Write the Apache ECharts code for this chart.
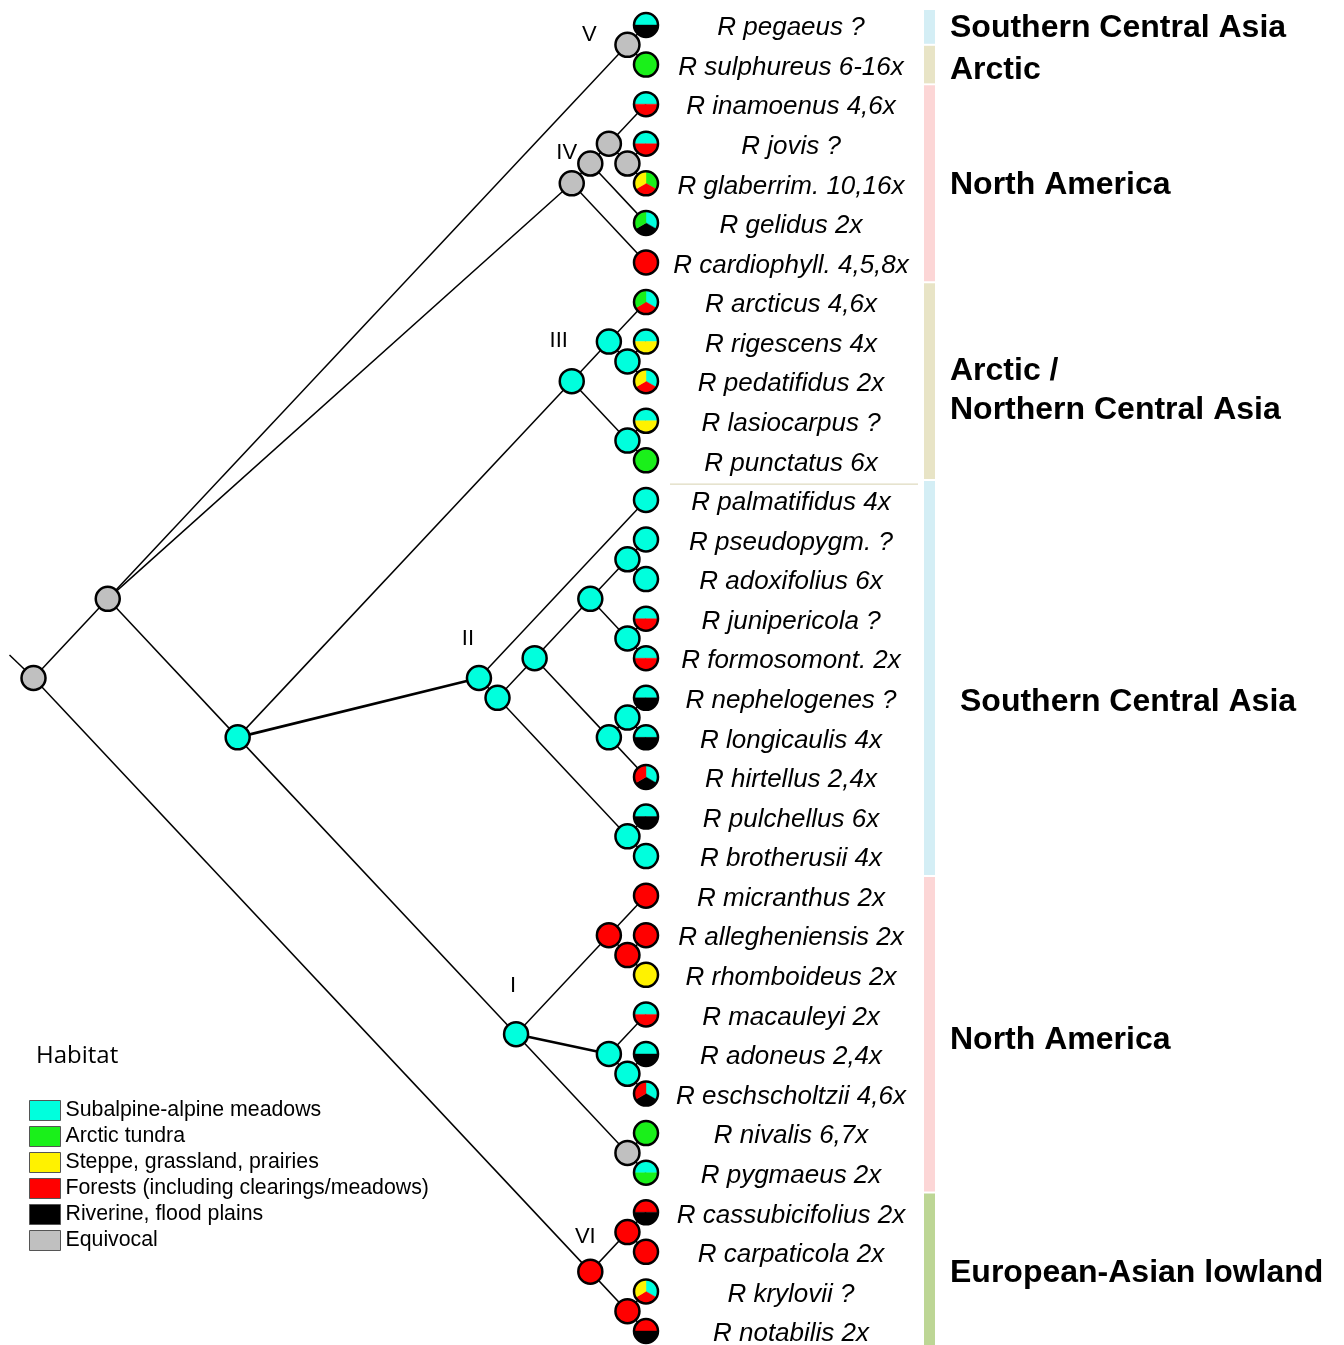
<!DOCTYPE html>
<html><head><meta charset="utf-8">
<script src="https://cdn.jsdelivr.net/npm/echarts@6/dist/echarts.min.js"></script>
<style>html,body{margin:0;padding:0;background:#fff}#c{width:1344px;height:1345px}</style>
</head><body><div id="c"></div>
<script>
// ---------------- DATA ----------------
const taxa = [
  'R pegaeus ?', 'R sulphureus 6-16x', 'R inamoenus 4,6x', 'R jovis ?', 'R glaberrim. 10,16x',
  'R gelidus 2x', 'R cardiophyll. 4,5,8x', 'R arcticus 4,6x', 'R rigescens 4x', 'R pedatifidus 2x',
  'R lasiocarpus ?', 'R punctatus 6x', 'R palmatifidus 4x', 'R pseudopygm. ?', 'R adoxifolius 6x',
  'R junipericola ?', 'R formosomont. 2x', 'R nephelogenes ?', 'R longicaulis 4x', 'R hirtellus 2,4x',
  'R pulchellus 6x', 'R brotherusii 4x', 'R micranthus 2x', 'R allegheniensis 2x', 'R rhomboideus 2x',
  'R macauleyi 2x', 'R adoneus 2,4x', 'R eschscholtzii 4,6x', 'R nivalis 6,7x', 'R pygmaeus 2x',
  'R cassubicifolius 2x', 'R carpaticola 2x', 'R krylovii ?', 'R notabilis 2x'
];
// habitat codes: S subalpine, A arctic, T steppe, F forest, R riverine, E equivocal
const leafHabitats = [
  ['S','R'], ['A'], ['S','F'], ['S','F'], ['A','F','T'],
  ['S','R','A'], ['F'], ['S','F','A'], ['S','T'], ['S','F','T'],
  ['S','T'], ['A'], ['S'], ['S'], ['S'],
  ['S','F'], ['S','F'], ['S','R'], ['S','R'], ['S','R','F'],
  ['S','R'], ['S'], ['F'], ['F'], ['T'],
  ['S','F'], ['S','R'], ['S','R','F'], ['A'], ['S','A'],
  ['F','R'], ['F'], ['S','F','T'], ['F','R']
];
// topology (leaf indices), nested clades
const cladeV   = [0, 1];
const cladeIV  = [[[2, [3, 4]], 5], 6];
const cladeIII = [[7, [8, 9]], [10, 11]];
const cladeII  = [12, [[[[13, 14], [15, 16]], [[17, 18], 19]], [20, 21]]];
const cladeI   = [[22, [23, 24]], [25, [26, 27]], [28, 29]];
const cladeVI  = [[30, 31], [32, 33]];
const tree = [[cladeV, cladeIV, [cladeIII, cladeII, cladeI]], cladeVI];
// internal node habitat reconstructions in preorder
const internalHabitats = [
  'E','E','E','E','E','E','E',
  'S','S','S','S','S','S','S','S','S','S','S','S','S','S','S',
  'F','F','S','S','E','F','F','F'
];
const cladeNames = ['V', 'IV', 'III', 'II', 'I', 'VI'];
const cladeRefs  = [cladeV, cladeIV, cladeIII, cladeII, cladeI, cladeVI];

const regionNames = ['Southern Central Asia', 'Arctic', 'North America', 'Arctic /\nNorthern Central Asia',
  'Southern Central Asia', 'North America', 'European-Asian lowland'];
const regionFrom = [0, 1, 2, 7, 12, 22, 30];
const regionTo   = [0, 1, 6, 11, 21, 29, 33];

const habitatCodes = ['S', 'A', 'T', 'F', 'R', 'E'];
const habitatNames = ['Subalpine-alpine meadows', 'Arctic tundra', 'Steppe, grassland, prairies',
  'Forests (including clearings/meadows)', 'Riverine, flood plains', 'Equivocal'];

// ---------------- STYLE / LAYOUT ----------------
const HAB_COLOR = {S:'#00FFDD', A:'#1AF01A', T:'#FFF200', F:'#FF0000', R:'#000000', E:'#C0C0C0'};
const REGION_COLORS = ['#D4EEF5', '#E8E4C6', '#FCD6D6', '#E8E4C6', '#D4EEF5', '#FCD6D6', '#BDD695'];
const CLADE_OFFSET = {V:[-38,-11], IV:[-5,-31], III:[-13,-41], II:[-11,-40], I:[-3,-49], VI:[-5,-36]};
const REGION_NUDGE = [[0,3],[0,6],[0,2],[0,9],[10,24],[0,6],[0,2]];
const NODE_R = 12, STEM = [-24, -23], LABEL_DX = 145;
const FONT = '"Liberation Sans", Arial, sans-serif';

// ---------------- LAYOUT FROM TOPOLOGY ----------------
const internalNodes = [], leafNodes = [], edges = [];
let counter = 0;
function layout(n) {
  if (typeof n === 'number') {
    const nd = {x: 0, y: n, first: n, last: n, count: 1, hab: leafHabitats[n]};
    leafNodes[n] = nd; return nd;
  }
  const id = counter++;
  const nd = {id, hab: [internalHabitats[id]], ref: n};
  internalNodes.push(nd);
  const kids = n.map(layout);
  nd.first = kids[0].first; nd.last = kids[kids.length - 1].last;
  nd.count = kids.reduce((s, k) => s + k.count, 0);
  nd.x = nd.count - 1; nd.y = (nd.first + nd.last) / 2;
  kids.forEach(k => edges.push([nd.x, nd.y, k.x, k.y, 0]));
  return nd;
}
const root = layout(tree);
edges.push([root.x, root.y, root.x, root.y, 1]); // stem
const allNodes = internalNodes.concat(leafNodes);
const cladeLabelData = cladeRefs.map((ref, i) => {
  const nd = internalNodes.find(n => n.ref === ref);
  return [nd.x, nd.y, i];
});

// ---------------- RENDERERS ----------------
function renderEdge(params, api) {
  const a = api.coord([api.value(0), api.value(1)]);
  const b = api.value(4) === 1 ? [a[0] + STEM[0], a[1] + STEM[1]] : api.coord([api.value(2), api.value(3)]);
  const dx = Math.abs(b[0] - a[0]), dy = Math.abs(b[1] - a[1]);
  return {type: 'line', shape: {x1: a[0], y1: a[1], x2: b[0], y2: b[1]},
    style: {stroke: '#000', lineWidth: dy < 0.5 * dx ? 2.6 : 1.5}};
}
function renderNode(params, api) {
  const nd = allNodes[api.value(2)];
  const c = api.coord([api.value(0), api.value(1)]);
  const hab = nd.hab, children = [];
  if (hab.length === 1) {
    children.push({type: 'circle', shape: {cx: c[0], cy: c[1], r: NODE_R},
      style: {fill: HAB_COLOR[hab[0]], stroke: '#000', lineWidth: 2.5}});
  } else {
    const start = hab.length === 2 ? Math.PI : -Math.PI / 2;
    const step = 2 * Math.PI / hab.length;
    hab.forEach((h, i) => children.push({type: 'sector',
      shape: {cx: c[0], cy: c[1], r0: 0, r: NODE_R, startAngle: start + i * step, endAngle: start + (i + 1) * step, clockwise: true},
      style: {fill: HAB_COLOR[h], stroke: HAB_COLOR[h], lineWidth: 0.4}}));
    children.push({type: 'circle', shape: {cx: c[0], cy: c[1], r: NODE_R},
      style: {fill: 'none', stroke: '#000', lineWidth: 2.5}});
  }
  return {type: 'group', children};
}
function renderLeafLabel(params, api) {
  const c = api.coord([api.value(0), api.value(1)]);
  return {type: 'text', style: {text: taxa[api.value(1)], x: c[0] + LABEL_DX, y: c[1] + 3,
    font: 'italic 26px ' + FONT, fill: '#000', align: 'center', verticalAlign: 'middle'}};
}
function renderCladeLabel(params, api) {
  const c = api.coord([api.value(0), api.value(1)]);
  const name = cladeNames[api.value(2)], off = CLADE_OFFSET[name];
  return {type: 'text', style: {text: name, x: c[0] + off[0], y: c[1] + off[1] + 1,
    font: '22px ' + FONT, fill: '#000', align: 'center', verticalAlign: 'middle'}};
}
function renderRegion(params, api) {
  const i = api.value(3);
  const t = api.coord([0, api.value(1) - 0.5]);
  const b = api.coord([1, api.value(2) + 0.5]);
  const top = Math.max(t[1] + 1, 10), bot = b[1] - 1;
  const children = [
    {type: 'rect', shape: {x: t[0], y: top, width: b[0] - t[0], height: bot - top}, style: {fill: REGION_COLORS[i]}},
    {type: 'text', style: {text: regionNames[i], x: b[0] + 15 + REGION_NUDGE[i][0], y: (t[1] + b[1]) / 2 + REGION_NUDGE[i][1],
      font: 'bold 32px ' + FONT, fill: '#000', align: 'left', verticalAlign: 'middle', lineHeight: 39}}
  ];
  if (i === 3) children.push({type: 'line', shape: {x1: t[0] - 254, y1: b[1] + 4, x2: t[0] - 6, y2: b[1] + 4},
    style: {stroke: '#D6D1B0', lineWidth: 1}});
  return {type: 'group', children};
}

// ---------------- CHART ----------------
const chart = echarts.init(document.getElementById('c'), null, {renderer: 'canvas'});
const legendSeries = habitatCodes.map((code, i) => ({
  name: habitatNames[i], type: 'scatter', data: [], xAxisIndex: 0, yAxisIndex: 0,
  itemStyle: {color: HAB_COLOR[code], opacity: 1, borderColor: '#555', borderWidth: 1}
}));
chart.setOption({
  animation: false,
  backgroundColor: '#fff',
  title: {text: 'Habitat', left: 36, top: 1044, padding: 0,
    textStyle: {fontSize: 24, fontWeight: 'normal', fontFamily: '"Open Sans", "Noto Sans", sans-serif', color: '#000'}},
  legend: {orient: 'vertical', left: 29, top: 1100, padding: 0, itemWidth: 31, itemHeight: 20, itemGap: 5,
    icon: 'rect', data: habitatNames, selectedMode: false,
    itemStyle: {borderColor: '#555', borderWidth: 1, opacity: 1},
    textStyle: {fontSize: 21.3, fontFamily: FONT, color: '#000', lineHeight: 20}},
  grid: [
    {left: 33.5, top: 25, width: 612.5, height: 1306},
    {left: 924, top: 25, width: 11, height: 1306}
  ],
  xAxis: [
    {type: 'value', gridIndex: 0, min: 0, max: 33, inverse: true, show: false},
    {type: 'value', gridIndex: 1, min: 0, max: 1, show: false}
  ],
  yAxis: [
    {type: 'value', gridIndex: 0, min: 0, max: 33, inverse: true, show: false},
    {type: 'value', gridIndex: 1, min: 0, max: 33, inverse: true, show: false}
  ],
  series: [
    {type: 'custom', name: 'regions', xAxisIndex: 1, yAxisIndex: 1, renderItem: renderRegion,
      encode: {x: 0, y: [1, 2]}, data: regionFrom.map((f, i) => [0, f, regionTo[i], i]), silent: true},
    {type: 'custom', name: 'edges', xAxisIndex: 0, yAxisIndex: 0, renderItem: renderEdge,
      encode: {x: [0, 2], y: [1, 3]}, data: edges, silent: true},
    {type: 'custom', name: 'nodes', xAxisIndex: 0, yAxisIndex: 0, renderItem: renderNode,
      encode: {x: 0, y: 1}, data: allNodes.map((n, i) => [n.x, n.y, i]), silent: true},
    {type: 'custom', name: 'leafLabels', xAxisIndex: 0, yAxisIndex: 0, renderItem: renderLeafLabel,
      encode: {x: 0, y: 1}, data: taxa.map((t, i) => [0, i]), silent: true},
    {type: 'custom', name: 'cladeLabels', xAxisIndex: 0, yAxisIndex: 0, renderItem: renderCladeLabel,
      encode: {x: 0, y: 1}, data: cladeLabelData, silent: true}
  ].concat(legendSeries)
});
</script>
</body></html>
